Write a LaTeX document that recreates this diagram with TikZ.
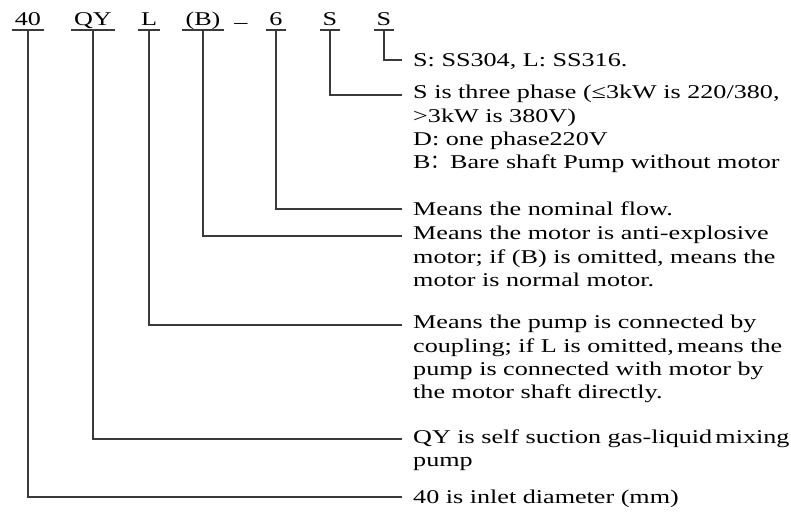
\documentclass[tikz,border=0pt]{standalone}
\usepackage{fontspec}
\setmainfont{Liberation Serif}[FakeStretch=1.34]
\newfontfamily\cjk{Noto Sans CJK SC}
\usetikzlibrary{positioning}
\definecolor{ink}{HTML}{3A3A3A}
\tikzset{
  code/.style={font=\fontsize{19.5}{23}\selectfont, inner sep=0pt, anchor=base},
  desc/.style={font=\fontsize{19.5}{23.3}\selectfont, align=left, inner sep=0pt, anchor=north west,
    execute at begin node=\strut},
  lead/.style={draw=ink, line width=1.5pt},
}

\begin{document}
\begin{tikzpicture}[x=1pt, y=-1pt]
  \useasboundingbox (0,0) rectangle (791,516);

  % model code
  \node[code] (c40) at (28,26) {40};
  \node[code] (cqy) at (93,26) {QY};
  \node[code] (cl) at (149,26) {L};
  \node[code] (cb) at (203,26) {(B)};
  \node[code] (cdash) at (241,29) {--};
  \node[code] (c6) at (276,26) {6};
  \node[code] (cs) at (330,26) {S};
  \node[code] (cm) at (384,26) {S};

  % leader ends
  \coordinate (em) at (402,60);
  \coordinate (es) at (402,95);
  \coordinate (e6) at (402,209);
  \coordinate (eb) at (402,236);
  \coordinate (el) at (402,325);
  \coordinate (eqy) at (402,439);
  \coordinate (e40) at (402,497);

  % meanings
  \node[desc] (dm) at ([xshift=11pt,yshift=9.8pt]em) {S: SS304, L: SS316.};
  \node[desc] (ds) at ([xshift=11pt,yshift=9.8pt]es)
    {S is three phase (≤3kW is 220/380,\\ >3kW is 380V)\\ D: one phase220V\\ B{\cjk ：}Bare shaft Pump without motor};
  \node[desc] (d6) at ([xshift=11pt,yshift=9.8pt]e6) {Means the nominal flow.};
  \node[desc] (db) at ([xshift=11pt,yshift=9.8pt]eb)
    {Means the motor is anti-explosive\\ motor; if (B) is omitted, means the\\ motor is normal motor.};
  \node[desc] (dl) at ([xshift=11pt,yshift=9.8pt]el)
    {Means the pump is connected by\\ coupling; if L is omitted,\,means the\\ pump is connected with motor by\\ the motor shaft directly.};
  \node[desc] (dqy) at ([xshift=11pt,yshift=9.8pt]eqy)
    {QY is self suction gas-liquid\,mixing\\ pump};
  \node[desc] (d40) at ([xshift=11pt,yshift=9.8pt]e40) {40 is inlet diameter (mm)};

  % underlines and leaders
  \foreach \c/\e in {c40/e40, cqy/eqy, cl/el, cb/eb, c6/e6, cs/es, cm/em}{
    \draw[lead] ([xshift=-3pt,yshift=-4pt]\c.base west) -- ([xshift=3pt,yshift=-4pt]\c.base east);
    \draw[lead] ([yshift=-4pt]\c.base) |- (\e);
  }
\end{tikzpicture}
\end{document}
